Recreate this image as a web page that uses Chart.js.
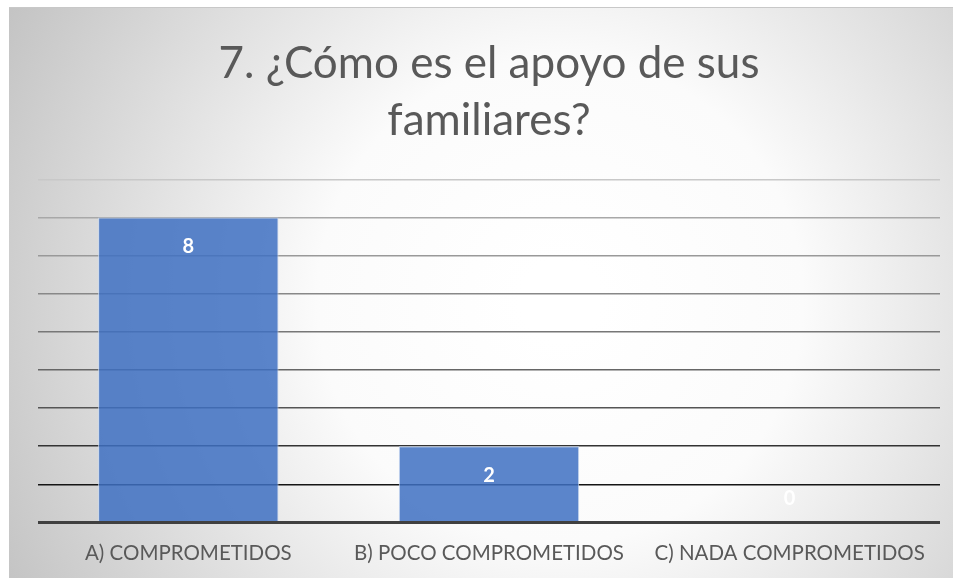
<!DOCTYPE html>
<html>
<head>
<meta charset="utf-8">
<script src="https://cdn.jsdelivr.net/npm/chart.js@4"></script>
<style>
  html, body { margin: 0; padding: 0; background: #fff; }
  #wrap { width: 958px; height: 579px; }
</style>
</head>
<body>
<div id="wrap"><canvas id="myChart"></canvas></div>
<script>
const categories = ['A) COMPROMETIDOS', 'B) POCO COMPROMETIDOS', 'C) NADA COMPROMETIDOS']
const values = [8, 2, 0]
const titleLines = ['7. ¿Cómo es el apoyo de sus', 'familiares?']

// gridline shade per value, light at the top, dark near the axis
const gridShades = ['#404040', '#151515', '#333333', '#555555', '#666666', '#777777', '#888888', '#999999', '#a8a8a8', '#c8c8c8']

// background panel with the soft radial fade
const panelBg = {
  id: 'panelBg',
  beforeDraw(chart) {
    const ctx = chart.ctx
    ctx.save()
    ctx.fillStyle = '#ffffff'
    ctx.fillRect(0, 0, chart.width, chart.height)
    const g = ctx.createRadialGradient(560, 300, 40, 560, 300, 620)
    g.addColorStop(0, '#ffffff')
    g.addColorStop(0.35, '#fbfbfb')
    g.addColorStop(1, '#c4c4c4')
    ctx.fillStyle = g
    ctx.fillRect(9, 7, 944, 571)
    ctx.strokeStyle = '#c8c8c8'
    ctx.lineWidth = 1
    ctx.beginPath()
    ctx.moveTo(9, 7.5)
    ctx.lineTo(953, 7.5)
    ctx.stroke()
    ctx.restore()
  }
}

// white value labels just inside the bar tops
const valueLabels = {
  id: 'valueLabels',
  afterDatasetsDraw(chart) {
    const ctx = chart.ctx
    const meta = chart.getDatasetMeta(0)
    ctx.save()
    ctx.font = 'bold 20px Lato, "Open Sans", sans-serif'
    ctx.fillStyle = '#ffffff'
    ctx.textAlign = 'center'
    ctx.textBaseline = 'middle'
    meta.data.forEach((bar, i) => {
      const v = values[i]
      const y = v > 0 ? bar.y + 29 : bar.y - 24
      ctx.fillText(String(v), bar.x, y)
    })
    ctx.restore()
  }
}

const myChart = new Chart(document.getElementById('myChart'), {
  type: 'bar',
  data: {
    labels: categories,
    datasets: [{
      data: values,
      backgroundColor: 'rgba(62, 112, 194, 0.85)',
      borderColor: 'rgba(200, 215, 240, 0.9)',
      borderWidth: 1,
      categoryPercentage: 0.6,
      barPercentage: 1
    }]
  },
  options: {
    responsive: true,
    maintainAspectRatio: false,
    animation: false,
    layout: { padding: { left: 38, right: 18, top: 0, bottom: -6 } },
    plugins: {
      legend: { display: false },
      tooltip: { enabled: false },
      title: {
        display: true,
        text: titleLines,
        color: '#595959',
        font: { family: 'Lato, "Open Sans", sans-serif', size: 44, weight: '400', lineHeight: 1.3 },
        padding: { top: 35, bottom: 30 }
      }
    },
    scales: {
      x: {
        grid: { display: false, drawTicks: false },
        border: { display: false },
        ticks: {
          color: '#595959',
          font: { family: 'Lato, "Open Sans", sans-serif', size: 20.5 },
          padding: 19,
          maxRotation: 0
        }
      },
      y: {
        min: 0,
        max: 9,
        ticks: { display: false, stepSize: 1 },
        border: { display: false },
        grid: {
          drawTicks: false,
          color: (c) => gridShades[c.tick.value] || '#999999',
          lineWidth: (c) => c.tick.value === 0 ? 3 : 1.5
        }
      }
    }
  },
  plugins: [panelBg, valueLabels]
})
</script>
</body>
</html>
